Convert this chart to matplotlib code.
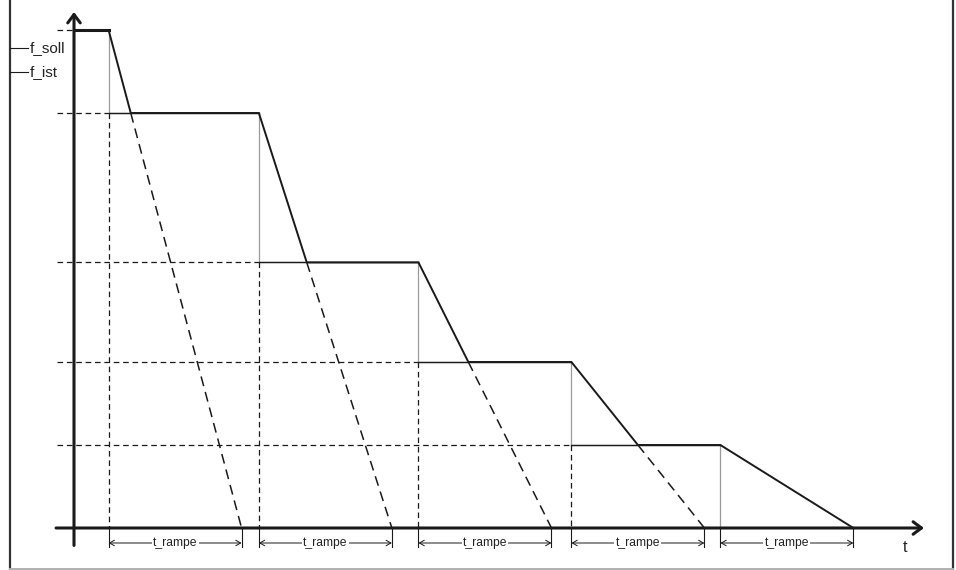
import matplotlib
matplotlib.use('Agg')
import matplotlib.pyplot as plt
from matplotlib.lines import Line2D

# ---------------- data ----------------
f_levels = [60, 50, 32, 20, 10, 0]          # f_soll steps (Hz)
t_switch = [2.6, 13.9, 25.9, 37.4, 48.6]    # times where f_soll steps down
t_rampe = 10.0                              # ramp time from current value to 0
legend_labels = ['f_soll', 'f_ist']
ramp_label = 't_rampe'
t_axis_label = 't'

# ---------------- layout ----------------
W, H = 956, 570
T0_PX, T_SCALE = 74, 13.3
F0_PX, F_SCALE = 528, 8.3

plt.rcParams['font.family'] = ['Liberation Sans', 'DejaVu Sans']
fig = plt.figure(figsize=(W / 100, H / 100), dpi=100)
ax = fig.add_axes([0, 0, 1, 1])
ax.set_xlim(-T0_PX / T_SCALE, (W - T0_PX) / T_SCALE)
ax.set_ylim(-(H - F0_PX) / F_SCALE, F0_PX / F_SCALE)
ax.axis('off')

def fx(px):
    return px / W

def fy(py):
    return 1 - py / H

DARK = '#1a1a1a'
GRAY = '#9a9a9a'

# frame
fig.add_artist(Line2D([fx(10), fx(10)], [fy(0), fy(569)], color='#333333', lw=1.6))
fig.add_artist(Line2D([fx(952.5), fx(952.5)], [fy(0), fy(569)], color='#333333', lw=1.6))
fig.add_artist(Line2D([fx(10), fx(953)], [fy(568.5), fy(568.5)], color='#b0b0b0', lw=1.4))

# legend
for i, lab in enumerate(legend_labels):
    yy = 48 + 24 * i
    fig.add_artist(Line2D([fx(10), fx(28)], [fy(yy), fy(yy)], color=DARK, lw=0.8))
    fig.text(fx(30), fy(yy), lab, fontsize=11, va='center', ha='left', color='#222222')

t_left = -1.3
n = len(t_switch)

# ramp end (where f_ist reaches next level)
t_reach = [t_switch[i] + t_rampe * (f_levels[i] - f_levels[i + 1]) / f_levels[i] for i in range(n)]

# horizontal dashed level lines
for k in range(n):
    x_end = 0 if k == 0 else t_switch[k - 1]
    ax.plot([t_left, x_end], [f_levels[k], f_levels[k]], color=DARK, lw=0.9,
            linestyle=(0, (4.5, 3)), zorder=2)

# vertical dashed lines below each new level
for i in range(n):
    if f_levels[i + 1] > 0:
        ax.plot([t_switch[i], t_switch[i]], [f_levels[i + 1], 0], color=DARK, lw=0.9,
                linestyle=(0, (4.5, 3)), zorder=2)

# dashed ramp continuation to zero
for i in range(n):
    if f_levels[i + 1] > 0:
        ax.plot([t_reach[i], t_switch[i] + t_rampe], [f_levels[i + 1], 0], color=DARK,
                lw=1.1, linestyle=(0, (6.5, 4)), zorder=2)

# f_soll: thin gray step
soll_t, soll_f = [0], [f_levels[0]]
for i in range(n):
    soll_t += [t_switch[i], t_switch[i]]
    soll_f += [f_levels[i], f_levels[i + 1]]
ax.plot(soll_t, soll_f, color=GRAY, lw=0.9, zorder=3)
for i in range(n - 1):
    ax.plot([t_switch[i], t_switch[i + 1]], [f_levels[i + 1]] * 2, color=DARK, lw=1.0, zorder=3)

# f_ist: thick line with ramps
ist_t, ist_f = [0, t_switch[0]], [f_levels[0], f_levels[0]]
for i in range(n):
    ist_t.append(t_reach[i])
    ist_f.append(f_levels[i + 1])
    if i + 1 < n:
        ist_t.append(t_switch[i + 1])
        ist_f.append(f_levels[i + 1])
ax.plot(ist_t, ist_f, color=DARK, lw=1.4, zorder=4, solid_joinstyle='miter')
ax.plot([0, t_switch[0]], [f_levels[0]] * 2, color=DARK, lw=2.2, zorder=4)

# axes with arrows
f_bot = -2.1
ax.annotate('', xy=(0, (F0_PX - 12) / F_SCALE), xytext=(0, f_bot),
            arrowprops=dict(arrowstyle='->,head_length=0.6,head_width=0.45', lw=2.2,
                            color=DARK, shrinkA=0, shrinkB=0), zorder=5)
ax.annotate('', xy=((924 - T0_PX) / T_SCALE, 0), xytext=(-1.35, 0),
            arrowprops=dict(arrowstyle='->,head_length=0.6,head_width=0.45', lw=2.2,
                            color=DARK, shrinkA=0, shrinkB=0), zorder=5)
ax.text((905 - T0_PX) / T_SCALE, -(547 - F0_PX) / F_SCALE, t_axis_label, fontsize=11.5,
        ha='center', va='center', color='#222222')

# t_rampe brackets
y_arrow = -(543 - F0_PX) / F_SCALE
y_tick = -(547 - F0_PX) / F_SCALE
for i in range(n):
    a, b = t_switch[i], t_switch[i] + t_rampe
    for xx in (a, b):
        ax.plot([xx, xx], [0, y_tick], color=DARK, lw=0.8, zorder=3)
    ax.annotate('', xy=(b, y_arrow), xytext=(a, y_arrow),
                arrowprops=dict(arrowstyle='<->,head_length=0.35,head_width=0.2', lw=0.7,
                                color=DARK, shrinkA=0, shrinkB=0))
    ax.text((a + b) / 2, y_arrow, ramp_label, fontsize=8.7, ha='center', va='center',
            color='#222222', bbox=dict(boxstyle='square,pad=0.1', fc='white', ec='none'))

fig.savefig('out.png', dpi=100)
